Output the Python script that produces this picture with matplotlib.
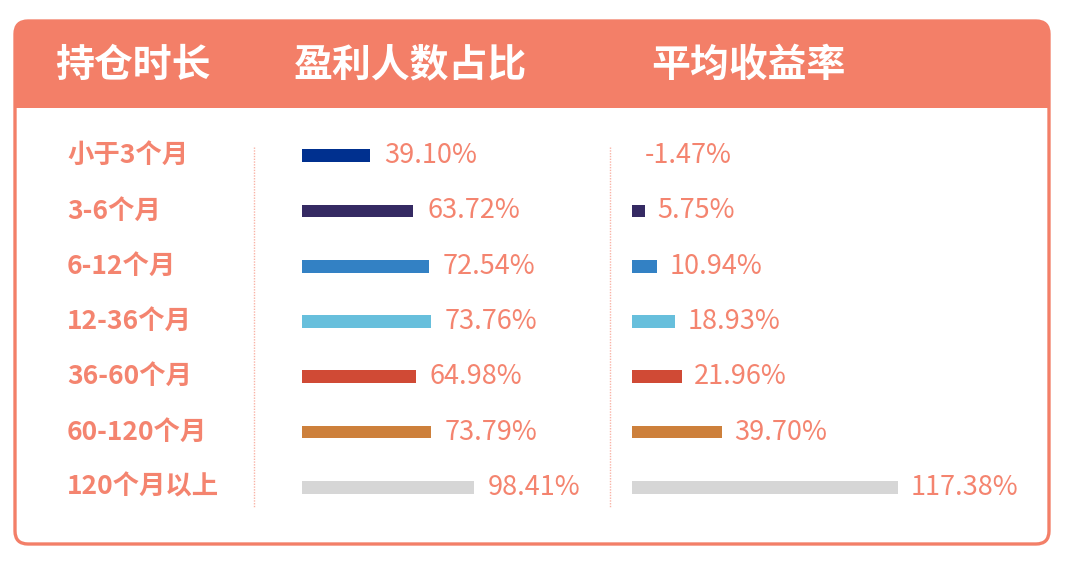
import matplotlib.pyplot as plt
from matplotlib.patches import FancyBboxPatch, Rectangle
from matplotlib.transforms import blended_transform_factory

plt.rcParams['font.family'] = ['Noto Sans CJK SC', 'DejaVu Sans']

# 数据
periods = ['小于3个月', '3-6个月', '6-12个月', '12-36个月', '36-60个月', '60-120个月', '120个月以上']
profit_ratio = [39.10, 63.72, 72.54, 73.76, 64.98, 73.79, 98.41]
avg_return = [-1.47, 5.75, 10.94, 18.93, 21.96, 39.70, 117.38]
headers = ['持仓时长', '盈利人数占比', '平均收益率']
bar_colors = ['#00308f', '#352a63', '#3381c4', '#67bfdc', '#d04a35', '#cd803b', '#d6d6d6']

salmon = '#f37f68'
text_c = '#f4846f'

W, H = 1068, 561
fig = plt.figure(figsize=(W / 100, H / 100), dpi=100)

# 背景框和表头
bg = fig.add_axes([0, 0, 1, 1])
bg.set_xlim(0, W)
bg.set_ylim(H, 0)
bg.axis('off')

box = FancyBboxPatch((15, 21), 1034, 523, boxstyle='round,pad=0,rounding_size=13',
                     fc='white', ec=salmon, lw=2.4, zorder=1)
bg.add_patch(box)
head = FancyBboxPatch((15, 21), 1034, 87, boxstyle='round,pad=0,rounding_size=13',
                      fc=salmon, ec='none', zorder=2)
bg.add_patch(head)
bg.add_patch(Rectangle((15, 70), 1034, 38, fc=salmon, ec='none', zorder=2))

for x, h in zip([133, 410, 748], headers):
    bg.text(x, 65, h, color='white', fontsize=28, fontweight='bold',
            ha='center', va='center', zorder=3)

for x in [254, 610]:
    bg.plot([x, x], [147, 507], color='#f9b3a6', lw=1.0, ls=(0, (1, 1)), zorder=3)


def panel(left, width, vals, px_max, vmax, gap):
    ax = fig.add_axes([left / W, 1 - 515 / H, width / W, (515 - 128) / H])
    ax.set_xlim(0, vmax * width / px_max)
    ax.set_ylim(len(vals) - 0.5, -0.5)
    ax.axis('off')
    y = range(len(vals))
    ax.barh(y, vals, height=0.23, color=bar_colors)
    for i, v in enumerate(vals):
        ax.annotate(f'{v:.2f}%', (max(v, 0), i), xytext=(gap, 0),
                    textcoords='offset points', ha='left', va='center',
                    fontsize=19.5, color=text_c)
    return ax


ax1 = panel(302, 300, profit_ratio, 172, max(profit_ratio), 10)
ax2 = panel(632, 400, avg_return, 266, max(avg_return), 9)

# 行标签
tr = blended_transform_factory(bg.transData, ax1.transData)
for i, p in enumerate(periods):
    ax1.text(67, i, p, transform=tr, color=text_c, fontsize=19, fontweight='bold',
             ha='left', va='center')

fig.savefig('out.png', dpi=100)
